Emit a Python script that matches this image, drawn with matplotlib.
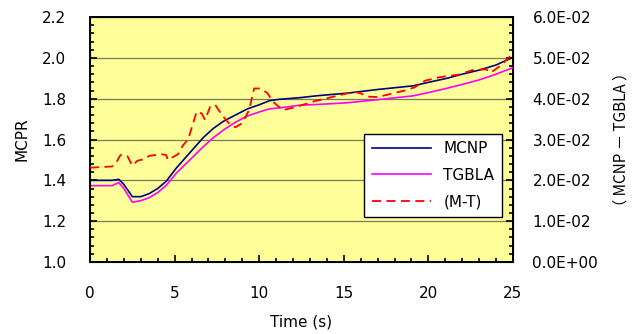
import numpy as np
import matplotlib
matplotlib.use('Agg')
import matplotlib.pyplot as plt
from matplotlib.ticker import MultipleLocator, FuncFormatter
from matplotlib.lines import Line2D

plt.rcParams['font.family'] = ['DejaVu Sans']

# MCPR curves (left axis)
time = [0, 1.3, 1.7, 2.0, 2.5, 3.0, 3.5, 4.0, 4.5, 5.1, 5.9, 6.7, 7.3, 7.9, 8.6,
        9.3, 10.0, 10.6, 11.2, 12.4, 13.5, 15.2, 17.0, 19.1, 20.0, 21.1, 22.0,
        23.0, 24.0, 25.0]
mcnp = [1.40, 1.40, 1.405, 1.38, 1.32, 1.32, 1.335, 1.36, 1.395, 1.46, 1.535,
        1.61, 1.655, 1.69, 1.72, 1.75, 1.77, 1.79, 1.797, 1.805, 1.815, 1.827,
        1.845, 1.863, 1.88, 1.90, 1.92, 1.94, 1.965, 2.003]
tgbla = [1.374, 1.374, 1.389, 1.36, 1.293, 1.30, 1.315, 1.34, 1.375, 1.435,
         1.50, 1.565, 1.61, 1.647, 1.685, 1.715, 1.735, 1.75, 1.755, 1.768,
         1.772, 1.78, 1.795, 1.814, 1.83, 1.851, 1.87, 1.892, 1.92, 1.952]

# difference (right axis)
time_mt = [0, 1.3, 1.5, 1.8, 2.2, 2.5, 2.8, 3.2, 3.5, 4.2, 4.5, 4.6, 5.2, 5.5,
           5.8, 6.3, 6.6, 6.8, 7.1, 7.4, 7.8, 8.3, 8.6, 9.0, 9.4, 9.7, 10.1,
           10.5, 10.8, 11.4, 12.2, 13.2, 14.4, 15.6, 16.0, 16.4, 17.0, 17.6,
           18.6, 19.2, 19.8, 20.6, 21.2, 21.8, 22.6, 23.4, 23.7, 24.3, 25.0]
diff_mt = [0.0231, 0.0234, 0.0240, 0.0262, 0.0260, 0.0236, 0.0248, 0.0252,
           0.0260, 0.0264, 0.0262, 0.0250, 0.0264, 0.0286, 0.0300, 0.0368,
           0.0364, 0.0348, 0.0380, 0.0385, 0.0360, 0.0335, 0.0330, 0.0340,
           0.0372, 0.0425, 0.0425, 0.0413, 0.0393, 0.0372, 0.0380, 0.0393,
           0.0405, 0.0417, 0.0413, 0.0405, 0.0404, 0.0410, 0.0420, 0.0428,
           0.0444, 0.0452, 0.0456, 0.0459, 0.0470, 0.0472, 0.0464, 0.0482,
           0.0511]

fig = plt.figure(figsize=(6.37, 3.34), dpi=100)
ax = fig.add_axes([0.1413, 0.2156, 0.664, 0.7334])
ax.set_facecolor('#FFFF99')

ax.plot(time, mcnp, color='#000080', linewidth=1.2, zorder=3)
ax.plot(time, tgbla, color='#FF00FF', linewidth=1.2, zorder=3)

ax.set_xlim(0, 25)
ax.set_ylim(1.0, 2.2)
ax.xaxis.set_major_locator(MultipleLocator(5))
ax.xaxis.set_minor_locator(MultipleLocator(1))
ax.yaxis.set_major_locator(MultipleLocator(0.2))
ax.yaxis.set_minor_locator(MultipleLocator(0.04))
ax.yaxis.set_major_formatter(FuncFormatter(lambda v, p: f'{v:.1f}'))
ax.grid(axis='y', which='major', color='#7a7a5a', linewidth=0.9)
ax.tick_params(which='both', direction='in', labelsize=11, width=1.2)
ax.tick_params(which='major', length=5)
ax.tick_params(which='minor', length=3)
ax.tick_params(axis='x', which='major', pad=17)
ax.tick_params(axis='y', which='major', pad=17)
ax.set_xlabel('Time (s)', fontsize=11, labelpad=10)
ax.set_ylabel('MCPR', fontsize=11, labelpad=9)
for s in ax.spines.values():
    s.set_linewidth(1.4)

ax2 = ax.twinx()
ax2.plot(time_mt, diff_mt, color='#FF0000', linewidth=1.3, linestyle=(0, (5, 3)), zorder=4)
ax2.set_ylim(0, 0.06)
ax2.yaxis.set_major_locator(MultipleLocator(0.01))
ax2.yaxis.set_minor_locator(MultipleLocator(0.002))
ax2.yaxis.set_major_formatter(FuncFormatter(lambda v, p: f'{v:.1E}'))
ax2.tick_params(which='both', direction='in', labelsize=11, width=1.2)
ax2.tick_params(which='major', length=5, pad=14)
ax2.tick_params(which='minor', length=3)
ax2.set_ylabel('（ MCNP － TGBLA ）', fontsize=11, rotation=90, labelpad=10,
               family=['Noto Sans CJK JP', 'DejaVu Sans'])

handles = [Line2D([], [], color='#000080', linewidth=1.2),
           Line2D([], [], color='#FF00FF', linewidth=1.2),
           Line2D([], [], color='#FF0000', linewidth=1.3, linestyle=(0, (5, 3)))]
leg = ax2.legend(handles, ['MCNP', 'TGBLA', '(M-T)'], loc='lower right',
                 bbox_to_anchor=(0.974, 0.184), borderaxespad=0, fontsize=11,
                 frameon=True, fancybox=False, edgecolor='black', framealpha=1,
                 handlelength=3.9, borderpad=0.5, labelspacing=0.75)
leg.get_frame().set_linewidth(1.0)

fig.savefig('out.png', dpi=100)
